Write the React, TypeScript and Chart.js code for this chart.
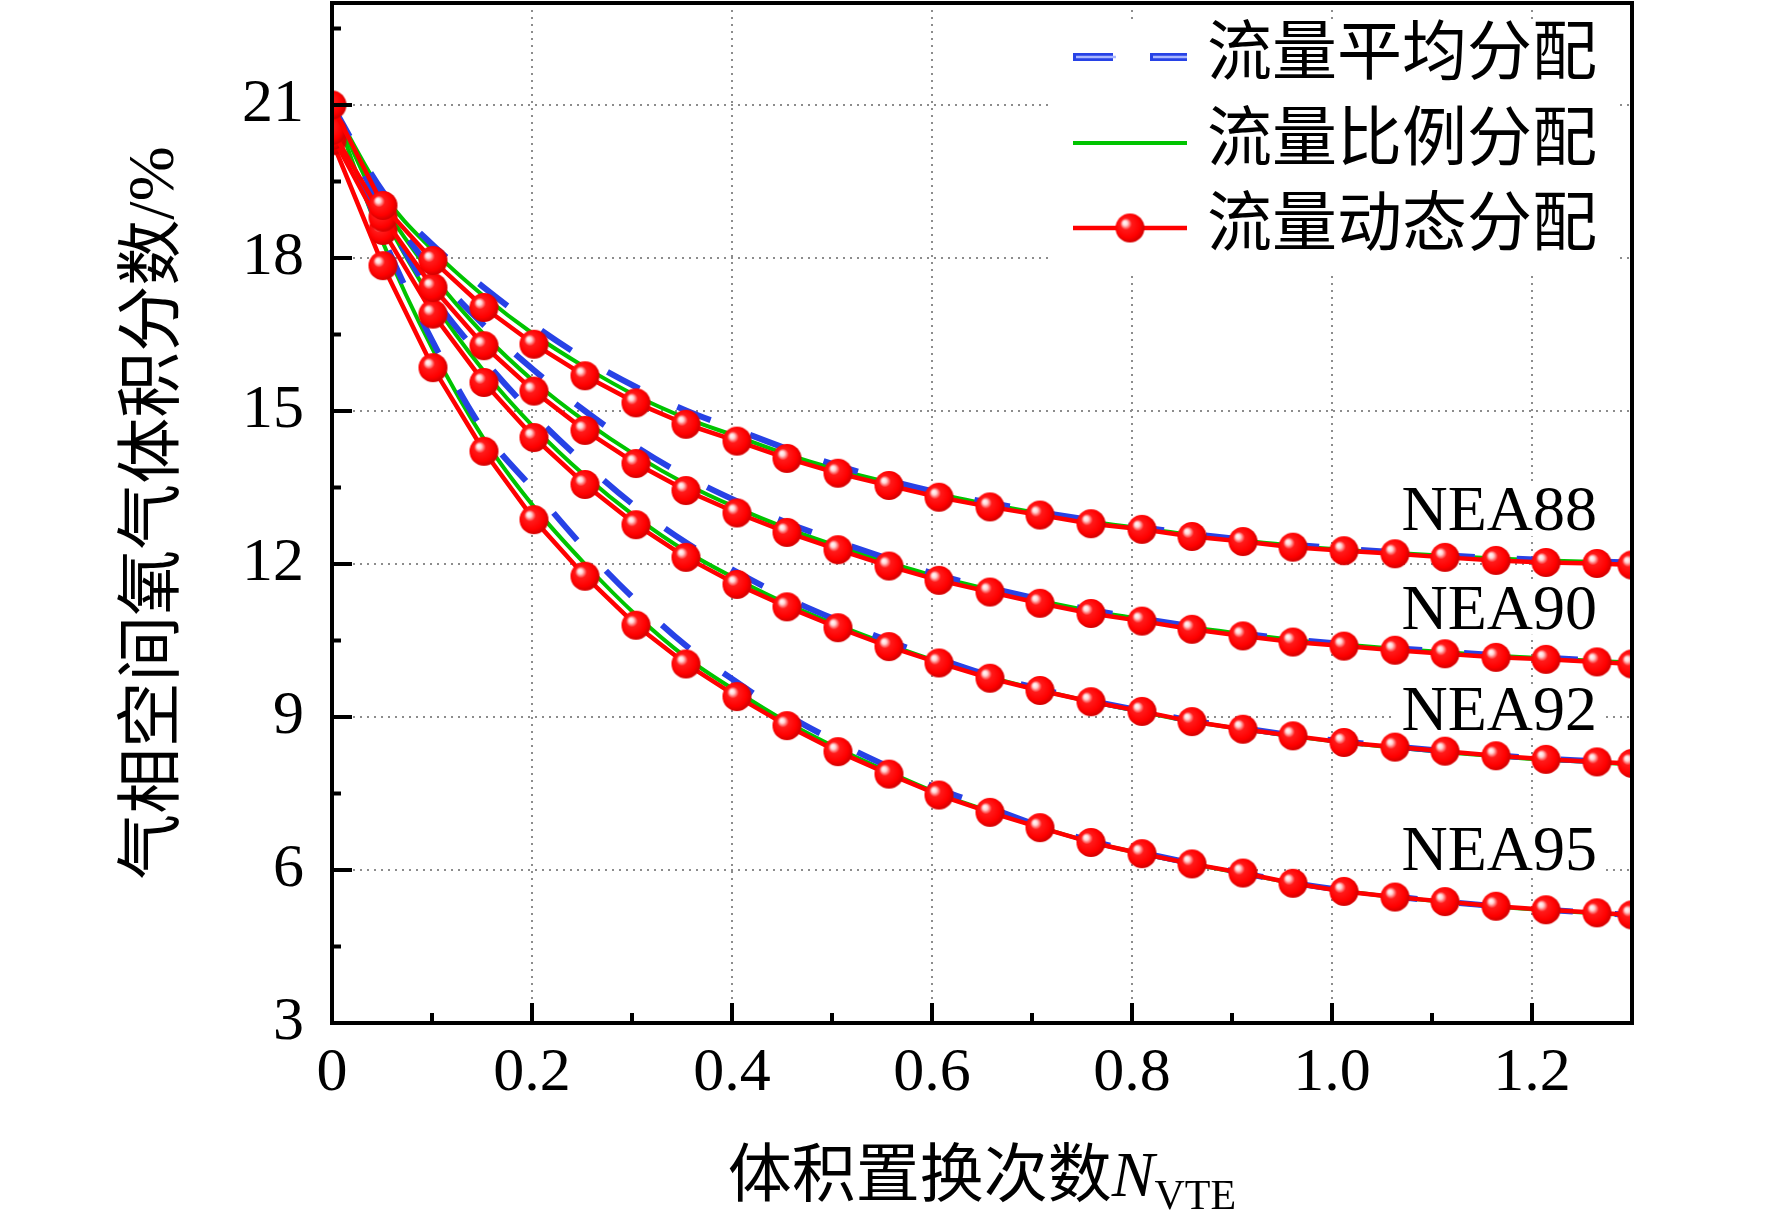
import { useEffect, useRef } from 'react';
import Chart from 'chart.js/auto';

// N_VTE sample points (same for every series)
const xValues = [0, 0.051, 0.101, 0.152, 0.202, 0.253, 0.304, 0.354, 0.405, 0.455, 0.506, 0.557, 0.607, 0.658, 0.708, 0.759, 0.81, 0.86, 0.911, 0.961, 1.012, 1.063, 1.113, 1.164, 1.214, 1.265, 1.3];

const groupNames = ['NEA88', 'NEA90', 'NEA92', 'NEA95'];
const legendLabels = ['流量平均分配', '流量比例分配', '流量动态分配'];

// 流量平均分配 (blue dashed)
const avgNEA88 = [21.0, 19.3, 18.25, 17.42, 16.68, 16.02, 15.47, 15.01, 14.63, 14.26, 13.93, 13.64, 13.4, 13.2, 13.02, 12.86, 12.72, 12.59, 12.48, 12.38, 12.3, 12.23, 12.17, 12.12, 12.08, 12.05, 12.03];
const avgNEA90 = [21.0, 19.1, 17.75, 16.68, 15.8, 15.0, 14.3, 13.72, 13.23, 12.81, 12.44, 12.1, 11.78, 11.53, 11.31, 11.1, 10.93, 10.78, 10.64, 10.52, 10.43, 10.35, 10.28, 10.21, 10.16, 10.11, 10.08];
const avgNEA92 = [21.0, 18.9, 17.25, 16.0, 14.92, 13.97, 13.12, 12.42, 11.84, 11.33, 10.89, 10.49, 10.14, 9.81, 9.55, 9.32, 9.12, 8.93, 8.78, 8.64, 8.52, 8.42, 8.33, 8.25, 8.18, 8.13, 8.09];
const avgNEA95 = [21.0, 18.4, 16.35, 14.6, 13.45, 12.3, 11.28, 10.4, 9.68, 9.04, 8.5, 8.02, 7.59, 7.22, 6.86, 6.57, 6.34, 6.13, 5.94, 5.75, 5.6, 5.48, 5.38, 5.29, 5.22, 5.16, 5.12];

// 流量比例分配 (green)
const propNEA88 = [21.0, 19.25, 18.15, 17.25, 16.5, 15.86, 15.3, 14.86, 14.5, 14.15, 13.85, 13.6, 13.37, 13.17, 12.99, 12.83, 12.7, 12.57, 12.46, 12.36, 12.28, 12.22, 12.16, 12.11, 12.07, 12.04, 12.02];
const propNEA90 = [21.0, 19.05, 17.65, 16.5, 15.58, 14.8, 14.13, 13.57, 13.1, 12.7, 12.35, 12.03, 11.74, 11.5, 11.28, 11.08, 10.92, 10.76, 10.63, 10.51, 10.42, 10.34, 10.27, 10.2, 10.15, 10.1, 10.07];
const propNEA92 = [21.0, 18.85, 17.15, 15.78, 14.68, 13.73, 12.92, 12.25, 11.7, 11.22, 10.8, 10.42, 10.08, 9.78, 9.53, 9.3, 9.1, 8.91, 8.76, 8.62, 8.5, 8.4, 8.31, 8.23, 8.16, 8.11, 8.07];
const propNEA95 = [21.0, 18.3, 16.2, 14.45, 13.12, 12.0, 11.0, 10.17, 9.5, 8.9, 8.38, 7.92, 7.5, 7.15, 6.84, 6.55, 6.32, 6.12, 5.93, 5.74, 5.59, 5.47, 5.37, 5.28, 5.21, 5.15, 5.11];

// 流量动态分配 (red with markers)
const dynNEA88 = [21.0, 19.03, 17.95, 17.03, 16.31, 15.69, 15.16, 14.74, 14.41, 14.07, 13.78, 13.54, 13.31, 13.12, 12.96, 12.79, 12.68, 12.54, 12.44, 12.33, 12.26, 12.2, 12.13, 12.07, 12.03, 12.01, 11.98];
const dynNEA90 = [20.5, 18.8, 17.42, 16.28, 15.39, 14.62, 13.97, 13.44, 13.0, 12.62, 12.28, 11.96, 11.68, 11.45, 11.23, 11.03, 10.88, 10.72, 10.59, 10.47, 10.39, 10.31, 10.24, 10.17, 10.13, 10.08, 10.04];
const dynNEA92 = [20.4, 18.54, 16.9, 15.56, 14.48, 13.56, 12.77, 12.13, 11.6, 11.16, 10.75, 10.38, 10.06, 9.76, 9.52, 9.3, 9.11, 8.91, 8.76, 8.63, 8.5, 8.41, 8.33, 8.24, 8.17, 8.12, 8.09];
const dynNEA95 = [20.3, 17.85, 15.85, 14.21, 12.87, 11.76, 10.8, 10.04, 9.4, 8.83, 8.32, 7.88, 7.47, 7.13, 6.83, 6.54, 6.32, 6.12, 5.94, 5.74, 5.58, 5.47, 5.38, 5.29, 5.22, 5.16, 5.12];

const xTickValues = [0, 0.2, 0.4, 0.6, 0.8, 1.0, 1.2];
const xTickLabels = ['0', '0.2', '0.4', '0.6', '0.8', '1.0', '1.2'];
const xMinorTicks = [0.1, 0.3, 0.5, 0.7, 0.9, 1.1];
const yTickValues = [3, 6, 9, 12, 15, 18, 21];
const yTickLabels = ['3', '6', '9', '12', '15', '18', '21'];
const yMinorTicks = [4.5, 7.5, 10.5, 13.5, 16.5, 19.5, 22.5];

// where the group names sit (x, y in data units, right aligned)
const labelAnchors = [
  [1.265, 12.66],
  [1.265, 10.73],
  [1.265, 8.74],
  [1.265, 6.0],
];

const SERIF = "'Liberation Serif', 'Times New Roman', serif";
const CJK = "'Liberation Serif', 'Noto Sans CJK SC', serif";
const BLUE = '#2742e6';
const GREEN = '#00c400';
const RED = '#ff0000';

function makeSphere(r: number) {
  const c = document.createElement('canvas');
  const s = Math.ceil(r * 2 + 2);
  c.width = s;
  c.height = s;
  const g = c.getContext('2d')!;
  const cx = s / 2;
  const cy = s / 2;
  const grad = g.createRadialGradient(cx - r * 0.38, cy - r * 0.38, 0, cx - r * 0.1, cy - r * 0.1, r * 1.05);
  grad.addColorStop(0, '#ffffff');
  grad.addColorStop(0.16, '#ffd6d6');
  grad.addColorStop(0.38, '#ff1a1a');
  grad.addColorStop(0.8, '#ff0000');
  grad.addColorStop(1, '#d80000');
  g.fillStyle = grad;
  g.beginPath();
  g.arc(cx, cy, r, 0, Math.PI * 2);
  g.fill();
  return c;
}

const App: React.FC = () => {
  const chartRef = useRef<HTMLCanvasElement | null>(null);
  const chartInstance = useRef<Chart | null>(null);

  useEffect(() => {
    document.body.style.margin = '0';
    if (!chartRef.current) return;
    const ctx = chartRef.current.getContext('2d');
    if (!ctx) return;
    if (chartInstance.current) chartInstance.current.destroy();

    const sphere = makeSphere(14.5);
    const toPts = (ys: number[]) => xValues.map((x, i) => ({ x, y: ys[i] }));

    const avg = [avgNEA88, avgNEA90, avgNEA92, avgNEA95];
    const prop = [propNEA88, propNEA90, propNEA92, propNEA95];
    const dyn = [dynNEA88, dynNEA90, dynNEA92, dynNEA95];

    const datasets: any[] = [];
    groupNames.forEach((name, g) => {
      datasets.push({
        label: `${name} ${legendLabels[1]}`,
        data: toPts(prop[g]),
        borderColor: GREEN,
        borderWidth: 4,
        pointRadius: 0,
        cubicInterpolationMode: 'monotone',
        order: 3,
      });
      datasets.push({
        label: `${name} ${legendLabels[0]}`,
        data: toPts(avg[g]),
        borderColor: BLUE,
        borderWidth: 6,
        borderDash: [36, 42],
        pointRadius: 0,
        cubicInterpolationMode: 'monotone',
        order: 2,
      });
      datasets.push({
        label: `${name} ${legendLabels[2]}`,
        data: toPts(dyn[g]),
        borderColor: RED,
        borderWidth: 4.5,
        pointStyle: sphere,
        pointRadius: 14,
        tension: 0,
        order: 1,
      });
    });

    const decor = {
      id: 'decor',
      beforeDatasetsDraw(chart: any) {
        const c = chart.ctx;
        const area = chart.chartArea;
        const xs = chart.scales.x;
        const ys = chart.scales.y;
        c.save();

        // legend box
        const bl = area.right - 581;
        const bt = area.top + 19;
        c.fillStyle = '#fff';
        c.fillRect(bl, bt, 567, 254);
        const rows = [area.top + 54, area.top + 140, area.top + 225];
        const sx0 = area.right - 559;
        const sx1 = area.right - 445;
        // blue dashed sample (outlined look)
        c.lineCap = 'butt';
        c.setLineDash([40, 37]);
        c.strokeStyle = BLUE;
        c.lineWidth = 8;
        c.beginPath();
        c.moveTo(sx0, rows[0]);
        c.lineTo(sx1, rows[0]);
        c.stroke();
        c.strokeStyle = '#a9b6ff';
        c.lineWidth = 2.5;
        c.beginPath();
        c.moveTo(sx0 + 3, rows[0]);
        c.lineTo(sx1, rows[0]);
        c.stroke();
        c.setLineDash([]);
        // green sample
        c.strokeStyle = GREEN;
        c.lineWidth = 4;
        c.beginPath();
        c.moveTo(sx0, rows[1]);
        c.lineTo(sx1, rows[1]);
        c.stroke();
        // red sample
        c.strokeStyle = RED;
        c.lineWidth = 4.5;
        c.beginPath();
        c.moveTo(sx0, rows[2]);
        c.lineTo(sx1, rows[2]);
        c.stroke();
        const mid = (sx0 + sx1) / 2;
        c.drawImage(sphere, mid - sphere.width / 2, rows[2] - sphere.height / 2);

        c.fillStyle = '#000';
        c.font = `65px ${CJK}`;
        c.textAlign = 'left';
        c.textBaseline = 'middle';
        legendLabels.forEach((t, i) => c.fillText(t, area.right - 425, rows[i]));

        // group labels with white backing
        c.font = `64px ${SERIF}`;
        c.textAlign = 'right';
        c.textBaseline = 'alphabetic';
        groupNames.forEach((name, i) => {
          const px = xs.getPixelForValue(labelAnchors[i][0]);
          const py = ys.getPixelForValue(labelAnchors[i][1]);
          const w = c.measureText(name).width;
          c.fillStyle = '#fff';
          c.fillRect(px - w - 6, py - 46, w + 12, 52);
          c.fillStyle = '#000';
          c.fillText(name, px, py);
        });
        c.restore();
      },
      afterDraw(chart: any) {
        const c = chart.ctx;
        const area = chart.chartArea;
        const xs = chart.scales.x;
        const ys = chart.scales.y;
        c.save();
        c.strokeStyle = '#000';
        c.lineWidth = 4;
        c.setLineDash([]);
        c.lineCap = 'butt';
        // inward ticks
        c.beginPath();
        xTickValues.forEach((v) => {
          const px = xs.getPixelForValue(v);
          c.moveTo(px, area.bottom);
          c.lineTo(px, area.bottom - 20);
        });
        xMinorTicks.forEach((v) => {
          const px = xs.getPixelForValue(v);
          c.moveTo(px, area.bottom);
          c.lineTo(px, area.bottom - 10);
        });
        yTickValues.forEach((v) => {
          const py = ys.getPixelForValue(v);
          c.moveTo(area.left, py);
          c.lineTo(area.left + 20, py);
        });
        yMinorTicks.forEach((v) => {
          const py = ys.getPixelForValue(v);
          c.moveTo(area.left, py);
          c.lineTo(area.left + 9, py);
        });
        c.stroke();
        // frame
        c.strokeRect(area.left, area.top, area.right - area.left, area.bottom - area.top);

        // x axis title with italic N and subscript
        const base = area.bottom + 173;
        const p1 = '体积置换次数';
        const p2 = 'N';
        const p3 = 'VTE';
        c.fillStyle = '#000';
        c.textBaseline = 'alphabetic';
        c.textAlign = 'left';
        c.font = `64px ${CJK}`;
        const w1 = c.measureText(p1).width;
        c.font = `italic 64px ${SERIF}`;
        const w2 = c.measureText(p2).width;
        c.font = `42px ${SERIF}`;
        const w3 = c.measureText(p3).width;
        let x0 = (area.left + area.right) / 2 - (w1 + w2 + w3) / 2;
        c.font = `64px ${CJK}`;
        c.fillText(p1, x0, base);
        x0 += w1;
        c.font = `italic 64px ${SERIF}`;
        c.fillText(p2, x0, base);
        x0 += w2;
        c.font = `42px ${SERIF}`;
        c.fillText(p3, x0, base + 13);
        c.restore();
      },
    };

    chartInstance.current = new Chart(ctx, {
      type: 'line',
      data: { datasets },
      plugins: [decor],
      options: {
        animation: false,
        responsive: false,
        devicePixelRatio: 1,
        layout: { autoPadding: false, padding: { top: 3, right: 140, left: 0, bottom: 0 } },
        plugins: {
          legend: { display: false },
          tooltip: { enabled: false },
        },
        elements: { line: { borderJoinStyle: 'round' } },
        scales: {
          x: {
            type: 'linear',
            min: 0,
            max: 1.3,
            afterBuildTicks: (s: any) => {
              s.ticks = xTickValues.map((v) => ({ value: v }));
            },
            afterFit: (s: any) => {
              s.height = 203;
              s.paddingLeft = 0;
              s.paddingRight = 0;
              s.paddingTop = 0;
              s.paddingBottom = 0;
            },
            grid: { color: '#8c8c8c', lineWidth: 2, drawTicks: false },
            border: { display: false, dash: [2, 5] },
            ticks: {
              padding: 14,
              color: '#000',
              autoSkip: false,
              maxRotation: 0,
              font: { family: SERIF, size: 62 },
              callback: (_v: any, i: number) => xTickLabels[i],
            },
          },
          y: {
            type: 'linear',
            min: 3,
            max: 23,
            afterBuildTicks: (s: any) => {
              s.ticks = yTickValues.map((v) => ({ value: v }));
            },
            afterFit: (s: any) => {
              s.width = 332;
              s.paddingLeft = 0;
              s.paddingRight = 0;
              s.paddingTop = 0;
              s.paddingBottom = 0;
            },
            grid: { color: '#8c8c8c', lineWidth: 2, drawTicks: false },
            border: { display: false, dash: [2, 5] },
            ticks: {
              padding: 28,
              color: '#000',
              autoSkip: false,
              font: { family: SERIF, size: 62 },
              callback: (_v: any, i: number) => yTickLabels[i],
            },
            title: {
              display: true,
              text: '气相空间氧气体积分数/%',
              color: '#000',
              font: { family: CJK, size: 66 },
              padding: { top: 116, bottom: 0 },
            },
          },
        },
      },
    });

    return () => {
      if (chartInstance.current) {
        chartInstance.current.destroy();
        chartInstance.current = null;
      }
    };
  }, []);

  return (
    <div style={{ width: 1772, height: 1226, background: '#fff' }}>
      <canvas ref={chartRef} width={1772} height={1226}></canvas>
    </div>
  );
};

export default App;
